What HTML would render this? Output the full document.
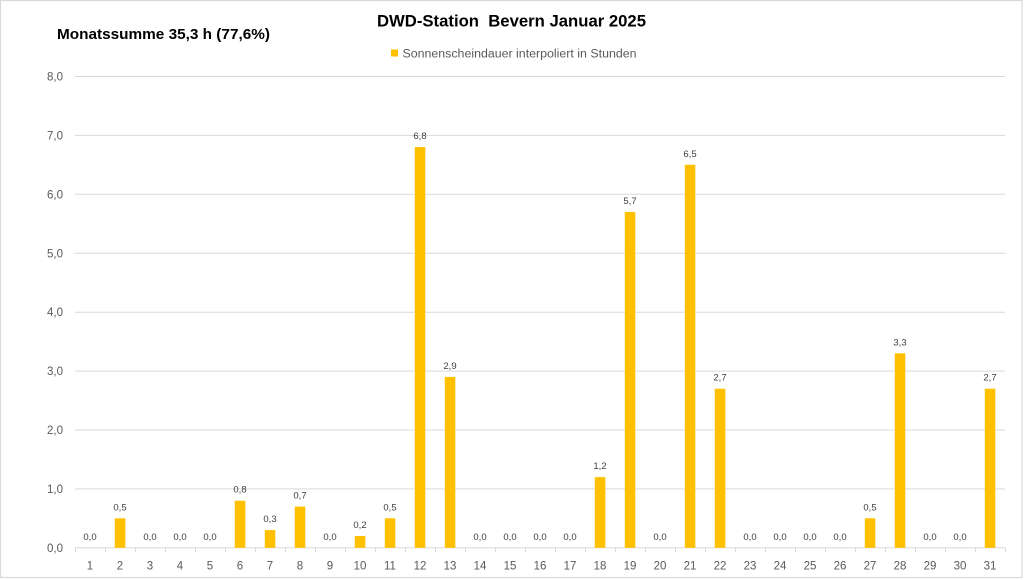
<!DOCTYPE html>
<html><head><meta charset="utf-8"><style>
html,body{margin:0;padding:0;background:#fff;}
svg{display:block;}
</style></head><body>
<svg width="1024" height="580" viewBox="0 0 1024 580" xmlns="http://www.w3.org/2000/svg">
<rect x="0" y="0" width="1024" height="580" fill="#fff"/>
<rect x="0.5" y="0.5" width="1021.5" height="577" fill="#fff" stroke="#d9d9d9" stroke-width="1.2"/>
<g stroke="#d9d9d9" stroke-width="1">
<line x1="75" x2="1005" y1="76.5" y2="76.5"/>
<line x1="75" x2="1005" y1="135.4" y2="135.4"/>
<line x1="75" x2="1005" y1="194.3" y2="194.3"/>
<line x1="75" x2="1005" y1="253.3" y2="253.3"/>
<line x1="75" x2="1005" y1="312.2" y2="312.2"/>
<line x1="75" x2="1005" y1="371.1" y2="371.1"/>
<line x1="75" x2="1005" y1="430.0" y2="430.0"/>
<line x1="75" x2="1005" y1="488.9" y2="488.9"/>
<line x1="75" x2="1005" y1="547.8" y2="547.8"/>
</g>
<g stroke="#d9d9d9" stroke-width="1" id="ticks"></g>
<g font-family="Liberation Sans, sans-serif" font-size="11.5" fill="#595959" text-anchor="end">
<text x="63" y="80.5">8,0</text>
<text x="63" y="139.4">7,0</text>
<text x="63" y="198.3">6,0</text>
<text x="63" y="257.3">5,0</text>
<text x="63" y="316.2">4,0</text>
<text x="63" y="375.1">3,0</text>
<text x="63" y="434.0">2,0</text>
<text x="63" y="492.9">1,0</text>
<text x="63" y="551.8">0,0</text>
</g>
<g id="bars"></g>
<text x="511.5" y="26.7" font-family="Liberation Sans, sans-serif" font-weight="bold" font-size="16.5" fill="#000" text-anchor="middle" textLength="269" lengthAdjust="spacingAndGlyphs" xml:space="preserve">DWD-Station  Bevern Januar 2025</text>
<text x="57" y="39" font-family="Liberation Sans, sans-serif" font-weight="bold" font-size="14.5" fill="#000" textLength="213" lengthAdjust="spacingAndGlyphs">Monatssumme 35,3 h (77,6%)</text>
<rect x="391" y="49.5" width="7" height="7" fill="#ffc000"/>
<text x="402.5" y="57.3" font-family="Liberation Sans, sans-serif" font-size="11.5" fill="#595959" textLength="234" lengthAdjust="spacingAndGlyphs">Sonnenscheindauer interpoliert in Stunden</text>
<g font-family="Liberation Sans, sans-serif" font-size="11.5" fill="#595959" text-anchor="middle">
<text x="90" y="569.5">1</text><text x="120" y="569.5">2</text><text x="150" y="569.5">3</text><text x="180" y="569.5">4</text><text x="210" y="569.5">5</text><text x="240" y="569.5">6</text><text x="270" y="569.5">7</text><text x="300" y="569.5">8</text><text x="330" y="569.5">9</text><text x="360" y="569.5">10</text><text x="390" y="569.5">11</text><text x="420" y="569.5">12</text><text x="450" y="569.5">13</text><text x="480" y="569.5">14</text><text x="510" y="569.5">15</text><text x="540" y="569.5">16</text><text x="570" y="569.5">17</text><text x="600" y="569.5">18</text><text x="630" y="569.5">19</text><text x="660" y="569.5">20</text><text x="690" y="569.5">21</text><text x="720" y="569.5">22</text><text x="750" y="569.5">23</text><text x="780" y="569.5">24</text><text x="810" y="569.5">25</text><text x="840" y="569.5">26</text><text x="870" y="569.5">27</text><text x="900" y="569.5">28</text><text x="930" y="569.5">29</text><text x="960" y="569.5">30</text><text x="990" y="569.5">31</text>
</g>
<g stroke="#d9d9d9" stroke-width="1">
<line x1="75.5" x2="75.5" y1="547.8" y2="552"/><line x1="105.5" x2="105.5" y1="547.8" y2="552"/><line x1="135.5" x2="135.5" y1="547.8" y2="552"/><line x1="165.5" x2="165.5" y1="547.8" y2="552"/><line x1="195.5" x2="195.5" y1="547.8" y2="552"/><line x1="225.5" x2="225.5" y1="547.8" y2="552"/><line x1="255.5" x2="255.5" y1="547.8" y2="552"/><line x1="285.5" x2="285.5" y1="547.8" y2="552"/><line x1="315.5" x2="315.5" y1="547.8" y2="552"/><line x1="345.5" x2="345.5" y1="547.8" y2="552"/><line x1="375.5" x2="375.5" y1="547.8" y2="552"/><line x1="405.5" x2="405.5" y1="547.8" y2="552"/><line x1="435.5" x2="435.5" y1="547.8" y2="552"/><line x1="465.5" x2="465.5" y1="547.8" y2="552"/><line x1="495.5" x2="495.5" y1="547.8" y2="552"/><line x1="525.5" x2="525.5" y1="547.8" y2="552"/><line x1="555.5" x2="555.5" y1="547.8" y2="552"/><line x1="585.5" x2="585.5" y1="547.8" y2="552"/><line x1="615.5" x2="615.5" y1="547.8" y2="552"/><line x1="645.5" x2="645.5" y1="547.8" y2="552"/><line x1="675.5" x2="675.5" y1="547.8" y2="552"/><line x1="705.5" x2="705.5" y1="547.8" y2="552"/><line x1="735.5" x2="735.5" y1="547.8" y2="552"/><line x1="765.5" x2="765.5" y1="547.8" y2="552"/><line x1="795.5" x2="795.5" y1="547.8" y2="552"/><line x1="825.5" x2="825.5" y1="547.8" y2="552"/><line x1="855.5" x2="855.5" y1="547.8" y2="552"/><line x1="885.5" x2="885.5" y1="547.8" y2="552"/><line x1="915.5" x2="915.5" y1="547.8" y2="552"/><line x1="945.5" x2="945.5" y1="547.8" y2="552"/><line x1="975.5" x2="975.5" y1="547.8" y2="552"/><line x1="1005.5" x2="1005.5" y1="547.8" y2="552"/>
</g>
<g fill="#ffc000">
<rect x="114.8" y="518.3" width="10.5" height="29.5"/>
<rect x="234.8" y="500.7" width="10.5" height="47.1"/>
<rect x="264.8" y="530.1" width="10.5" height="17.7"/>
<rect x="294.8" y="506.6" width="10.5" height="41.2"/>
<rect x="354.8" y="536.0" width="10.5" height="11.8"/>
<rect x="384.8" y="518.3" width="10.5" height="29.5"/>
<rect x="414.8" y="147.1" width="10.5" height="400.7"/>
<rect x="444.8" y="376.9" width="10.5" height="170.9"/>
<rect x="594.8" y="477.1" width="10.5" height="70.7"/>
<rect x="624.8" y="211.9" width="10.5" height="335.9"/>
<rect x="684.8" y="164.8" width="10.5" height="383.0"/>
<rect x="714.8" y="388.7" width="10.5" height="159.1"/>
<rect x="864.8" y="518.3" width="10.5" height="29.5"/>
<rect x="894.8" y="353.3" width="10.5" height="194.5"/>
<rect x="984.8" y="388.7" width="10.5" height="159.1"/>
</g>
<g font-family="Liberation Sans, sans-serif" font-size="9.5" fill="#404040" text-anchor="middle">
<text x="90" y="539.8">0,0</text>
<text x="120" y="510.3">0,5</text>
<text x="150" y="539.8">0,0</text>
<text x="180" y="539.8">0,0</text>
<text x="210" y="539.8">0,0</text>
<text x="240" y="492.7">0,8</text>
<text x="270" y="522.1">0,3</text>
<text x="300" y="498.6">0,7</text>
<text x="330" y="539.8">0,0</text>
<text x="360" y="528.0">0,2</text>
<text x="390" y="510.3">0,5</text>
<text x="420" y="139.1">6,8</text>
<text x="450" y="368.9">2,9</text>
<text x="480" y="539.8">0,0</text>
<text x="510" y="539.8">0,0</text>
<text x="540" y="539.8">0,0</text>
<text x="570" y="539.8">0,0</text>
<text x="600" y="469.1">1,2</text>
<text x="630" y="203.9">5,7</text>
<text x="660" y="539.8">0,0</text>
<text x="690" y="156.8">6,5</text>
<text x="720" y="380.7">2,7</text>
<text x="750" y="539.8">0,0</text>
<text x="780" y="539.8">0,0</text>
<text x="810" y="539.8">0,0</text>
<text x="840" y="539.8">0,0</text>
<text x="870" y="510.3">0,5</text>
<text x="900" y="345.3">3,3</text>
<text x="930" y="539.8">0,0</text>
<text x="960" y="539.8">0,0</text>
<text x="990" y="380.7">2,7</text>
</g>
</svg>
</body></html>
